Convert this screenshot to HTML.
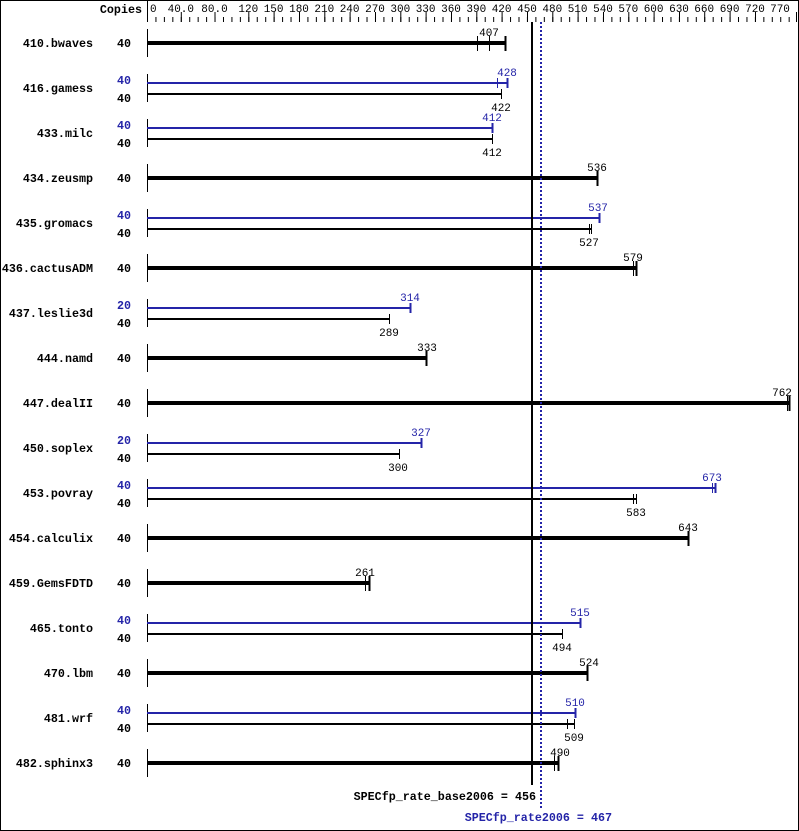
<!DOCTYPE html>
<html><head><style>
body{margin:0;background:#fff}
svg{display:block}
text{font-family:"Liberation Mono","DejaVu Sans Mono",monospace;font-size:11px}
.n{font-weight:bold;text-anchor:end;font-size:11.7px}
.c{font-weight:bold;text-anchor:end;font-size:11.7px}
.b{fill:#2424a8}
.v{text-anchor:middle}
</style></head><body>
<svg width="799" height="831" viewBox="0 0 799 831" xmlns="http://www.w3.org/2000/svg">
<defs><pattern id="mt" x="147" y="0" width="8.443" height="30" patternUnits="userSpaceOnUse"><rect x="0" y="0" width="1" height="30" fill="#000"/></pattern></defs>
<rect x="0.5" y="0.5" width="798" height="830" fill="#fff" stroke="#000"/>
<text x="142" y="13" class="c">Copies</text>
<line x1="147.5" y1="0" x2="147.5" y2="22" stroke="#000"/>
<rect x="147" y="17" width="650" height="5" fill="url(#mt)"/>
<g stroke="#000">
<line x1="147.5" y1="12" x2="147.5" y2="22"/><line x1="181.3" y1="12" x2="181.3" y2="22"/><line x1="215" y1="12" x2="215" y2="22"/><line x1="248.8" y1="12" x2="248.8" y2="22"/><line x1="274.1" y1="12" x2="274.1" y2="22"/><line x1="299.5" y1="12" x2="299.5" y2="22"/><line x1="324.8" y1="12" x2="324.8" y2="22"/><line x1="350.1" y1="12" x2="350.1" y2="22"/><line x1="375.5" y1="12" x2="375.5" y2="22"/><line x1="400.8" y1="12" x2="400.8" y2="22"/><line x1="426.1" y1="12" x2="426.1" y2="22"/><line x1="451.5" y1="12" x2="451.5" y2="22"/><line x1="476.8" y1="12" x2="476.8" y2="22"/><line x1="502.1" y1="12" x2="502.1" y2="22"/><line x1="527.5" y1="12" x2="527.5" y2="22"/><line x1="552.8" y1="12" x2="552.8" y2="22"/><line x1="578.1" y1="12" x2="578.1" y2="22"/><line x1="603.5" y1="12" x2="603.5" y2="22"/><line x1="628.8" y1="12" x2="628.8" y2="22"/><line x1="654.1" y1="12" x2="654.1" y2="22"/><line x1="679.5" y1="12" x2="679.5" y2="22"/><line x1="704.7" y1="12" x2="704.7" y2="22"/><line x1="730.1" y1="12" x2="730.1" y2="22"/><line x1="755.5" y1="12" x2="755.5" y2="22"/><line x1="796.5" y1="12" x2="796.5" y2="22"/>
</g>
<g>
<text x="150" y="12">0</text>
<text x="180.8" y="12" class="v">40.0</text><text x="214.5" y="12" class="v">80.0</text><text x="248.3" y="12" class="v">120</text><text x="273.6" y="12" class="v">150</text><text x="299" y="12" class="v">180</text><text x="324.3" y="12" class="v">210</text><text x="349.6" y="12" class="v">240</text><text x="375" y="12" class="v">270</text><text x="400.3" y="12" class="v">300</text><text x="425.6" y="12" class="v">330</text><text x="451" y="12" class="v">360</text><text x="476.3" y="12" class="v">390</text><text x="501.6" y="12" class="v">420</text><text x="527" y="12" class="v">450</text><text x="552.3" y="12" class="v">480</text><text x="577.6" y="12" class="v">510</text><text x="603" y="12" class="v">540</text><text x="628.3" y="12" class="v">570</text><text x="653.6" y="12" class="v">600</text><text x="679" y="12" class="v">630</text><text x="704.2" y="12" class="v">660</text><text x="729.6" y="12" class="v">690</text><text x="755" y="12" class="v">720</text><text x="780" y="12" class="v">770</text>
</g>

<g stroke="#000">
<line x1="147.5" y1="29" x2="147.5" y2="57"/><line x1="147.5" y1="74" x2="147.5" y2="102"/><line x1="147.5" y1="119" x2="147.5" y2="147"/><line x1="147.5" y1="164" x2="147.5" y2="192"/><line x1="147.5" y1="209" x2="147.5" y2="237"/><line x1="147.5" y1="254" x2="147.5" y2="282"/><line x1="147.5" y1="299" x2="147.5" y2="327"/><line x1="147.5" y1="344" x2="147.5" y2="372"/><line x1="147.5" y1="389" x2="147.5" y2="417"/><line x1="147.5" y1="434" x2="147.5" y2="462"/><line x1="147.5" y1="479" x2="147.5" y2="507"/><line x1="147.5" y1="524" x2="147.5" y2="552"/><line x1="147.5" y1="569" x2="147.5" y2="597"/><line x1="147.5" y1="614" x2="147.5" y2="642"/><line x1="147.5" y1="659" x2="147.5" y2="687"/><line x1="147.5" y1="704" x2="147.5" y2="732"/><line x1="147.5" y1="749" x2="147.5" y2="777"/>
</g>

<g>
<text x="93" y="47" class="n">410.bwaves</text>
<text x="93" y="92" class="n">416.gamess</text>
<text x="93" y="137" class="n">433.milc</text>
<text x="93" y="182" class="n">434.zeusmp</text>
<text x="93" y="227" class="n">435.gromacs</text>
<text x="93" y="272" class="n">436.cactusADM</text>
<text x="93" y="317" class="n">437.leslie3d</text>
<text x="93" y="362" class="n">444.namd</text>
<text x="93" y="407" class="n">447.dealII</text>
<text x="93" y="452" class="n">450.soplex</text>
<text x="93" y="497" class="n">453.povray</text>
<text x="93" y="542" class="n">454.calculix</text>
<text x="93" y="587" class="n">459.GemsFDTD</text>
<text x="93" y="632" class="n">465.tonto</text>
<text x="93" y="677" class="n">470.lbm</text>
<text x="93" y="722" class="n">481.wrf</text>
<text x="93" y="767" class="n">482.sphinx3</text>
</g>
<g>
<text x="131" y="47" class="c">40</text>
<text x="131" y="84" class="c b">40</text><text x="131" y="102" class="c">40</text>
<text x="131" y="129" class="c b">40</text><text x="131" y="147" class="c">40</text>
<text x="131" y="182" class="c">40</text>
<text x="131" y="219" class="c b">40</text><text x="131" y="237" class="c">40</text>
<text x="131" y="272" class="c">40</text>
<text x="131" y="309" class="c b">20</text><text x="131" y="327" class="c">40</text>
<text x="131" y="362" class="c">40</text>
<text x="131" y="407" class="c">40</text>
<text x="131" y="444" class="c b">20</text><text x="131" y="462" class="c">40</text>
<text x="131" y="489" class="c b">40</text><text x="131" y="507" class="c">40</text>
<text x="131" y="542" class="c">40</text>
<text x="131" y="587" class="c">40</text>
<text x="131" y="624" class="c b">40</text><text x="131" y="642" class="c">40</text>
<text x="131" y="677" class="c">40</text>
<text x="131" y="714" class="c b">40</text><text x="131" y="732" class="c">40</text>
<text x="131" y="767" class="c">40</text>
</g>

<g fill="#000">
<rect x="147" y="41" width="359" height="4"/>
<rect x="147" y="176" width="451" height="4"/>
<rect x="147" y="266" width="490" height="4"/>
<rect x="147" y="356" width="280" height="4"/>
<rect x="147" y="401" width="643" height="4"/>
<rect x="147" y="536" width="542" height="4"/>
<rect x="147" y="581" width="223" height="4"/>
<rect x="147" y="671" width="441" height="4"/>
<rect x="147" y="761" width="412" height="4"/>
</g>
<g stroke="#000">
<line x1="505.5" y1="36" x2="505.5" y2="51" stroke-width="2"/><line x1="477.5" y1="36" x2="477.5" y2="51"/><line x1="489.5" y1="36" x2="489.5" y2="51"/>
<line x1="597.5" y1="171" x2="597.5" y2="186" stroke-width="2"/>
<line x1="636.5" y1="261" x2="636.5" y2="276" stroke-width="2"/><line x1="633.5" y1="261" x2="633.5" y2="276"/>
<line x1="426.5" y1="351" x2="426.5" y2="366" stroke-width="2"/>
<line x1="789.5" y1="396" x2="789.5" y2="411" stroke-width="2"/><line x1="787.5" y1="396" x2="787.5" y2="411"/>
<line x1="688.5" y1="531" x2="688.5" y2="546" stroke-width="2"/>
<line x1="369.5" y1="576" x2="369.5" y2="591" stroke-width="2"/><line x1="365.5" y1="576" x2="365.5" y2="591"/>
<line x1="587.5" y1="666" x2="587.5" y2="681" stroke-width="2"/>
<line x1="558.5" y1="756" x2="558.5" y2="771" stroke-width="2"/><line x1="554.5" y1="756" x2="554.5" y2="771"/>
</g>
<g>
<text x="489" y="36" class="v">407</text>
<text x="597" y="171" class="v">536</text>
<text x="633" y="261" class="v">579</text>
<text x="427" y="351" class="v">333</text>
<text x="782" y="396" class="v">762</text>
<text x="688" y="531" class="v">643</text>
<text x="365" y="576" class="v">261</text>
<text x="589" y="666" class="v">524</text>
<text x="560" y="756" class="v">490</text>
</g>

<g fill="#2424a8">
<rect x="147" y="82" width="361" height="2"/>
<rect x="147" y="127" width="346" height="2"/>
<rect x="147" y="217" width="453" height="2"/>
<rect x="147" y="307" width="264" height="2"/>
<rect x="147" y="442" width="275" height="2"/>
<rect x="147" y="487" width="569" height="2"/>
<rect x="147" y="622" width="434" height="2"/>
<rect x="147" y="712" width="429" height="2"/>
</g>
<g stroke="#2424a8">
<line x1="507.5" y1="78" x2="507.5" y2="88" stroke-width="2"/><line x1="497.5" y1="78" x2="497.5" y2="88"/>
<line x1="492.5" y1="123" x2="492.5" y2="133" stroke-width="2"/>
<line x1="599.5" y1="213" x2="599.5" y2="223" stroke-width="2"/>
<line x1="410.5" y1="303" x2="410.5" y2="313" stroke-width="2"/>
<line x1="421.5" y1="438" x2="421.5" y2="448" stroke-width="2"/>
<line x1="715.5" y1="483" x2="715.5" y2="493" stroke-width="2"/><line x1="712.5" y1="483" x2="712.5" y2="493"/>
<line x1="580.5" y1="618" x2="580.5" y2="628" stroke-width="2"/>
<line x1="575.5" y1="708" x2="575.5" y2="718" stroke-width="2"/>
</g>
<g>
<text x="507" y="76" class="v b">428</text>
<text x="492" y="121" class="v b">412</text>
<text x="598" y="211" class="v b">537</text>
<text x="410" y="301" class="v b">314</text>
<text x="421" y="436" class="v b">327</text>
<text x="712" y="481" class="v b">673</text>
<text x="580" y="616" class="v b">515</text>
<text x="575" y="706" class="v b">510</text>
</g>
<g fill="#000">
<rect x="147" y="93" width="355" height="2"/>
<rect x="147" y="138" width="346" height="2"/>
<rect x="147" y="228" width="445" height="2"/>
<rect x="147" y="318" width="243" height="2"/>
<rect x="147" y="453" width="253" height="2"/>
<rect x="147" y="498" width="490" height="2"/>
<rect x="147" y="633" width="416" height="2"/>
<rect x="147" y="723" width="428" height="2"/>
</g>
<g stroke="#000">
<line x1="501.5" y1="89" x2="501.5" y2="99"/>
<line x1="492.5" y1="134" x2="492.5" y2="144"/>
<line x1="591.5" y1="224" x2="591.5" y2="234"/><line x1="589.5" y1="224" x2="589.5" y2="234"/>
<line x1="389.5" y1="314" x2="389.5" y2="324"/>
<line x1="399.5" y1="449" x2="399.5" y2="459"/>
<line x1="636.5" y1="494" x2="636.5" y2="504"/><line x1="633.5" y1="494" x2="633.5" y2="504"/>
<line x1="562.5" y1="629" x2="562.5" y2="639"/>
<line x1="574.5" y1="719" x2="574.5" y2="729"/><line x1="567.5" y1="719" x2="567.5" y2="729"/>
</g>
<g>
<text x="501" y="111" class="v">422</text>
<text x="492" y="156" class="v">412</text>
<text x="589" y="246" class="v">527</text>
<text x="389" y="336" class="v">289</text>
<text x="398" y="471" class="v">300</text>
<text x="636" y="516" class="v">583</text>
<text x="562" y="651" class="v">494</text>
<text x="574" y="741" class="v">509</text>
</g>

<line x1="532" y1="22" x2="532" y2="785" stroke="#000" stroke-width="2"/>
<line x1="541" y1="22" x2="541" y2="808" stroke="#2424a8" stroke-width="2" stroke-dasharray="2,2"/>
<text x="536" y="800" class="c">SPECfp_rate_base2006 = 456</text>
<text x="612" y="821" class="c b">SPECfp_rate2006 = 467</text>
</svg>
</body></html>
